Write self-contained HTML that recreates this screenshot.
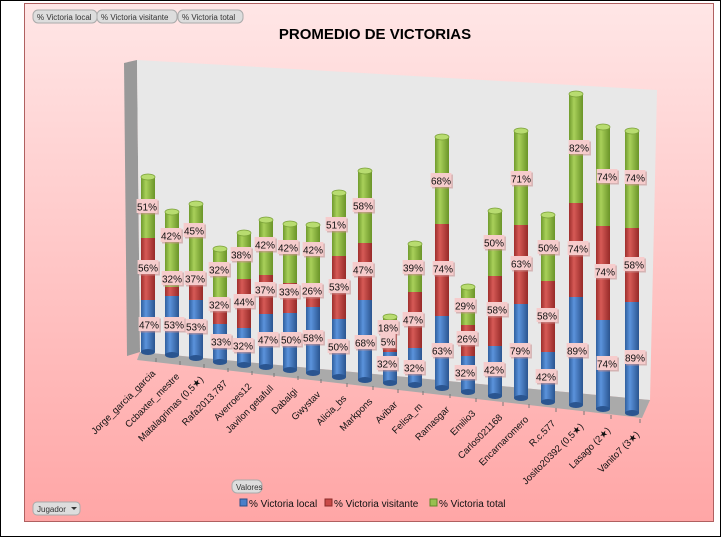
<!DOCTYPE html>
<html><head><meta charset="utf-8"><style>
body{margin:0;background:#fff;}
svg{display:block;font-family:"Liberation Sans",sans-serif;}
</style></head><body>
<svg width="721" height="537" viewBox="0 0 721 537" xmlns="http://www.w3.org/2000/svg">
<defs>
<linearGradient id="bg" x1="0" y1="0" x2="0" y2="1">
<stop offset="0" stop-color="#ffe6e6"/><stop offset="1" stop-color="#ffa6a6"/></linearGradient>
<linearGradient id="gb" x1="0" x2="1"><stop offset="0" stop-color="#2f5f9e"/><stop offset="0.35" stop-color="#5b93dc"/><stop offset="1" stop-color="#2a5590"/></linearGradient>
<linearGradient id="gr" x1="0" x2="1"><stop offset="0" stop-color="#9e2e2c"/><stop offset="0.35" stop-color="#d65a56"/><stop offset="1" stop-color="#962a28"/></linearGradient>
<linearGradient id="gg" x1="0" x2="1"><stop offset="0" stop-color="#6f9a2c"/><stop offset="0.35" stop-color="#a9d05a"/><stop offset="1" stop-color="#6a9428"/></linearGradient>
</defs>
<rect x="0.5" y="0.5" width="720" height="536" fill="#fff" stroke="#000"/>
<rect x="24.5" y="3.5" width="689" height="518" fill="url(#bg)" stroke="#b06060"/>
<g font-size="8" fill="#333">
<rect x="33" y="10" width="64" height="13" rx="5" fill="#ddd" stroke="#aaa"/><text x="37" y="20">% Victoria local</text>
<rect x="97" y="10" width="80" height="13" rx="5" fill="#ddd" stroke="#aaa"/><text x="101" y="20">% Victoria visitante</text>
<rect x="178" y="10" width="65" height="13" rx="5" fill="#ddd" stroke="#aaa"/><text x="182" y="20">% Victoria total</text>
</g>
<text x="375" y="39" font-size="15" font-weight="bold" text-anchor="middle" fill="#000">PROMEDIO DE VICTORIAS</text>
<polygon points="124,63 137,60 140,352 127,356" fill="#999"/>
<polygon points="137,60 657,90 650,400 140,352" fill="#e8e8e8"/>
<polygon points="140,352 650,400 642,418 137,360" fill="#aaa"/>
<g id="bars"></g>
<g font-size="10" fill="#111" id="labs"></g>
<g font-size="9.5" fill="#111" id="xl"></g>
<rect x="232" y="480" width="30" height="13" rx="5" fill="#ddd" stroke="#aaa"/><text x="236" y="490" font-size="8" fill="#333">Valores</text>
<rect x="33" y="502" width="47" height="13" rx="4" fill="#ddd" stroke="#aaa"/><text x="37" y="512" font-size="8" fill="#333">Jugador</text><polygon points="71,507 77,507 74,510" fill="#333"/>
<g font-size="10" fill="#111">
<rect x="240" y="499" width="7" height="7" fill="#4a7fc8" stroke="#2a4f88"/><text x="249" y="507">% Victoria local</text>
<rect x="325" y="499" width="7" height="7" fill="#c84a48" stroke="#882a28"/><text x="334" y="507">% Victoria visitante</text>
<rect x="430" y="499" width="7" height="7" fill="#98c050" stroke="#608828"/><text x="439" y="507">% Victoria total</text>
</g>
<script>
var D=[
["Jorge_garcia_garcia",148,352,300,238,177,[51,147,207],[56,148,268],[47,149,325]],
["Ccbaxter_mestre",172,355,296,287,212,[42,171,236],[32,172,279],[53,174,325]],
["Matalagrimas (0,5★)",196,358,300,280,204,[45,194,231],[37,195,279],[53,196,327]],
["Rafa2013.787",220,362,324,305,249,[32,219,270],[32,219,305],[33,221,342]],
["Averroes12",244,365,328,279,233,[38,241,255],[44,244,302],[32,243,346]],
["Javilon getafull",266,367,314,275,220,[42,265,245],[37,265,290],[47,268,340]],
["Dabalgi",290,370,313,283,224,[42,288,248],[33,289,292],[50,291,340]],
["Gwystav",313,373,307,297,225,[42,313,250],[26,312,291],[58,313,338]],
["Alicia_bs",339,377,319,256,193,[51,336,225],[53,339,287],[50,338,347]],
["Markpons",365,380,300,243,171,[58,363,206],[47,363,270],[68,365,343]],
["Avibar",390,383,352,323,317,[18,388,328],[5,388,342],[32,387,364]],
["Felisa_m",415,385,348,292,244,[39,413,268],[47,413,320],[32,414,368]],
["Ramasgar",442,388,316,224,137,[68,441,181],[74,443,269],[63,442,351]],
["Emilio3",468,392,356,325,287,[29,465,306],[26,467,339],[32,465,373]],
["Carlos021168",495,396,346,276,211,[50,494,243],[58,497,310],[42,494,370]],
["Encarnaromero",521,398,304,225,131,[71,521,179],[63,521,264],[79,520,351]],
["R.c.577",548,402,352,281,215,[50,548,248],[58,547,316],[42,546,377]],
["Josito20392 (0,5★)",576,405,297,203,94,[82,579,148],[74,578,249],[89,577,351]],
["Lasago (2★)",603,409,320,226,127,[74,607,177],[74,605,272],[74,607,364]],
["Vanito7 (3★)",632,413,302,228,131,[74,635,178],[58,634,265],[89,635,358]]];
var ns="http://www.w3.org/2000/svg",B=document.getElementById("bars"),L=document.getElementById("labs"),X=document.getElementById("xl");
function el(t,a,p){var e=document.createElementNS(ns,t);for(var k in a)e.setAttribute(k,a[k]);p.appendChild(e);return e;}
D.forEach(function(d){var x=d[1],w=14,h=w/2,r=3;
 el("rect",{x:x-h,y:d[3],width:w,height:d[2]-d[3],fill:"url(#gb)"},B);
 el("ellipse",{cx:x,cy:d[2],rx:h,ry:r,fill:"#2a5590"},B);
 el("rect",{x:x-h,y:d[4],width:w,height:d[3]-d[4],fill:"url(#gr)"},B);
 el("rect",{x:x-h,y:d[5],width:w,height:d[4]-d[5],fill:"url(#gg)"},B);
 el("ellipse",{cx:x,cy:d[5],rx:h,ry:r,fill:"#b8dc70",stroke:"#7aa038","stroke-width":0.7},B);
 [d[6],d[7],d[8]].forEach(function(l){var s=l[0]+"%",tw=s.length*5.6+4;
  el("rect",{x:l[1]-tw/2+1.5,y:l[2]-6.5,width:tw,height:14,fill:"#c89090",opacity:0.6},L);
  el("rect",{x:l[1]-tw/2,y:l[2]-8,width:tw,height:14,fill:"#f6cccc"},L);
  var t=el("text",{x:l[1],y:l[2]+3.5,"text-anchor":"middle"},L);t.textContent=s;});
 var ex=x+8,ey=d[2]+22;
 var t=el("text",{x:ex,y:ey,"text-anchor":"end",transform:"rotate(-45 "+ex+" "+ey+")"},X);t.textContent=d[0];
 el("line",{x1:x+8,y1:d[2]+6,x2:x+8,y2:d[2]+10,stroke:"#777"},B);
});
</script>
</svg>
</body></html>
